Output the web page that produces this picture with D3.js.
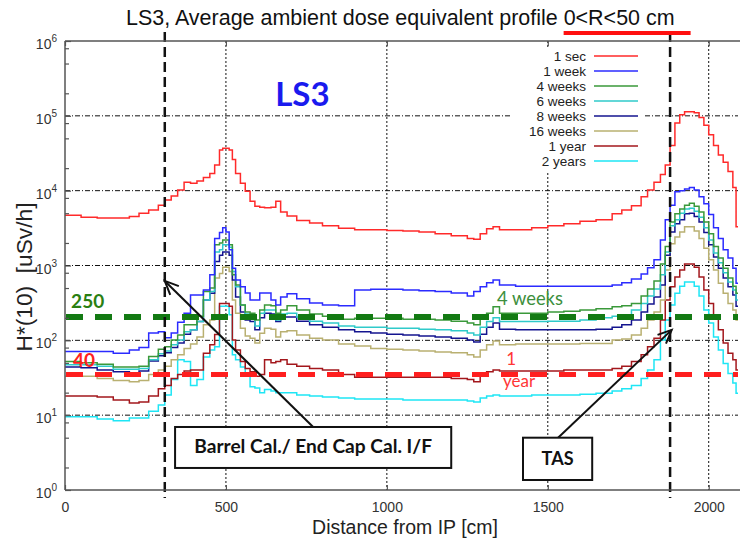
<!DOCTYPE html>
<html><head><meta charset="utf-8">
<script src="https://cdn.jsdelivr.net/npm/d3@7"></script>
<style>body{margin:0;background:#fff} svg{display:block}</style>
</head><body><svg id="chart" width="740" height="541"></svg>
<script>
// ---------- data ----------
const distances = [0,50,100,150,200,230,260,290,310,330,350,370,390,410,430,450,465,480,490,500,510,520,530,545,560,575,590,605,620,640,655,670,690,720,760,800,850,900,950,1000,1050,1100,1150,1200,1250,1270,1290,1310,1330,1350,1400,1450,1500,1550,1600,1650,1700,1730,1760,1790,1810,1830,1850,1865,1880,1895,1910,1925,1940,1955,1970,1985,2000,2015,2030,2045,2060,2075,2085];

const dose1sec = [4700,4400,4300,4300,4500,5000,5500,6400,7500,8500,
10200,13000,12600,13500,15000,
17000,22000,35000,37000,37000,
35000,26000,17000,12600,9800,
7200,6200,6000,5900,6000,
7200,5200,4600,4000,3700,
3400,3150,3000,3000,2930,
2900,2800,2650,2500,2300,
2250,2650,3100,3300,3000,
3000,3200,3400,3600,3900,
4100,4900,5500,6300,8300,
10200,13000,16500,22000,40000,
80000,103000,113000,113000,110000,
95000,75000,56000,40000,30000,
24000,18000,11000,3300];

const dose1week = [71,71,71,67,74,80,125,130,108,125,
175,230,405,405,470,
750,2300,2750,3200,2800,
1620,920,640,520,430,
347,347,430,430,347,
297,380,420,360,315,
297,290,470,480,480,
470,460,450,430,390,
450,520,590,640,550,
530,530,530,530,530,
530,550,590,660,770,
930,1190,2200,4100,6400,
9700,10000,10500,11000,10200,
8300,6700,4800,3200,2300,
1620,1260,920,580];

const dose4weeks = [52,50,48,44,44,45,61,76,82,101,
118,161,161,210,450,
500,1900,2000,2200,2200,
1900,750,550,297,240,
230,187,255,297,290,
230,255,290,255,225,
210,192,197,197,197,
192,192,187,180,170,
161,197,230,280,230,
230,230,240,245,255,
265,280,290,310,390,
485,620,1050,1800,3800,
4900,5700,6400,6800,6200,
5200,3800,2650,1800,1260,
920,680,530,425];

const dose6weeks = [47,47,45,41,41,42,55,66,72,87,
101,130,138,178,347,
450,1520,1620,1900,1900,
1750,830,520,297,225,
219,155,230,255,255,
187,225,230,205,180,
170,155,150,150,145,
145,141,138,134,125,
118,150,178,200,178,
178,178,180,180,187,
200,210,219,255,310,
390,485,750,1520,3400,
4100,5000,5700,5800,5300,
4400,3200,2200,1470,1090,
800,600,470,347];

const dose8weeks = [44,43,40,38,34,39,53,62,68,80,
92,121,138,178,347,
425,1130,1370,1520,1520,
1370,640,380,240,187,
178,138,200,230,225,
178,205,205,180,161,
150,138,130,125,121,
118,114,111,107,101,
95,121,150,170,141,
138,138,138,138,138,
141,150,161,187,240,
305,380,550,1370,2800,
3600,4100,4900,5000,4500,
3800,2750,1900,1300,920,
680,520,405,285];

const dose16weeks = [33,33,31,29,28,29,35,40,45,55,
64,78,89,111,161,
187,680,780,950,950,
830,347,230,145,114,
107,92,124,145,141,
111,130,134,118,107,
101,89,84,78,76,
74,72,70,68,64,
60,74,87,98,87,
89,89,89,89,91,
91,101,104,118,145,
187,240,347,870,1950,
2400,2800,3300,3300,2900,
2300,1700,1190,870,580,
425,310,255,187];

const dose1year = [18,18,17.5,16,14.5,15,18,22.5,25,31,
35,39,40,40,67,
87,120,310,310,310,
285,101,74,52,42,
38,33,35,55,50,
52,55,48,45,42,
40,35,32,32,32,
32,32,32,31,30,
28,34,38,40,39,
39,39,39,40,40,
40,42,45,52,64,
82,107,187,347,520,
700,870,1050,1050,950,
700,470,310,205,138,
92,67,55,40];

const dose2years = [9.5,9.5,8.9,8.4,9.2,9.2,11.3,13.7,18.6,30,
55,52,25,30,60,
74,82,285,285,285,
219,64,55,44,33,
24,23,20,22,21,
20,20,20,18.6,18,
17.5,17,16.5,16.5,16.5,
16,16,16,16,15.5,
15,17,18,18.6,18,
18,18.6,18.6,18.6,19,
19.6,21,22.5,25,31,
40,55,101,187,297,
425,530,600,600,530,
390,255,170,111,74,
49,36,27,19.6];

const seriesNames = ["1 sec","1 week","4 weeks","6 weeks","8 weeks","16 weeks","1 year","2 years"];
const seriesValues = [dose1sec,dose1week,dose4weeks,dose6weeks,dose8weeks,dose16weeks,dose1year,dose2years];
const seriesColors = ["#ff2a2a","#2b2bff","#3a993a","#2fcaca","#14148f","#b9b071","#a3171c","#1ee6f5"];

const xTicks = [0,500,1000,1500,2000];
const yDecades = [1,10,100,1000,10000,100000,1000000];
const yMinor = [2,5,8,20,50,80,200,500,800,2000,5000,8000,20000,50000,80000,200000,500000,800000];
const xMax = 2091;

const markerDistances = [310,1880];
const thresholdValues = [205,35];
const thresholdColors = ["#137a13","#ff1f1f"];
const thresholdLabels = ["250","40"];
const thresholdLabelPos = [[19,271],[25,44]];

const titleMain = "LS3, Average ambient dose equivalent profile ";
const titleRange = "0<R<50 cm";

// ---------- chart ----------
const svg = d3.select("#chart");
const FONT = "Liberation Sans, Arial, sans-serif";
const plot = {left:65,right:738,top:41,bottom:490};
const x = d3.scaleLinear().domain([0,xMax]).range([plot.left,plot.right]);
const y = d3.scaleLog().domain([1,1e6]).range([plot.bottom,plot.top]);

function fit(sel, target){
  const fs = parseFloat(sel.attr("font-size"));
  const w = sel.node().getComputedTextLength();
  sel.attr("font-size", fs*target/w);
}

svg.append("defs").append("clipPath").attr("id","clip")
  .append("rect").attr("x",plot.left).attr("y",plot.top)
  .attr("width",plot.right-plot.left).attr("height",plot.bottom-plot.top);

// grid
svg.append("g").selectAll("line").data(yDecades.slice(1,-1)).join("line")
  .attr("x1",plot.left).attr("x2",plot.right)
  .attr("y1",d=>y(d)).attr("y2",d=>y(d))
  .attr("stroke","#111").attr("stroke-width",1).attr("stroke-dasharray","5,2,1,2");
svg.append("g").selectAll("line").data(xTicks.slice(1)).join("line")
  .attr("x1",d=>x(d)).attr("x2",d=>x(d))
  .attr("y1",plot.top).attr("y2",plot.bottom)
  .attr("stroke","#111").attr("stroke-width",1).attr("stroke-dasharray","2,2");

// series
const line = d3.line().curve(d3.curveStepAfter).x(d=>x(d[0])).y(d=>y(d[1]));
const gS = svg.append("g").attr("clip-path","url(#clip)");
for (let i = seriesValues.length-1; i >= 0; i--) {
  const vals = seriesValues[i];
  const pts = distances.map((d,j)=>[d,vals[j]]);
  pts.push([xMax, vals[vals.length-1]]);
  gS.append("path").datum(pts).attr("d",line)
    .attr("fill","none").attr("stroke",seriesColors[i]).attr("stroke-width",1.5);
}

// threshold dashed lines
thresholdValues.forEach((v,i)=>{
  svg.append("line").attr("x1",plot.left+1).attr("x2",plot.right)
    .attr("y1",y(v)).attr("y2",y(v))
    .attr("stroke",thresholdColors[i]).attr("stroke-width",i===0?6:5)
    .attr("stroke-dasharray","17,12");
  svg.append("text").attr("x",x(thresholdLabelPos[i][0])).attr("y",y(thresholdLabelPos[i][1]))
    .attr("font-family","Lato, Calibri, sans-serif").attr("font-weight","bold")
    .attr("font-size",19).attr("fill",i===0?"#2a7f12":"#ff2020")
    .text(thresholdLabels[i]);
});

// annotation texts on curves
const noteTexts = [
  {t:"4 weeks", cm:1342, v:297, color:"#3d8f3d", anchor:"start", w:66},
  {t:"1", cm:1386, v:47, color:"#ff3535", anchor:"middle", w:0},
  {t:"year", cm:1411, v:23.8, color:"#ff3535", anchor:"middle", w:0}
];
noteTexts.forEach(n=>{
  const t = svg.append("text").attr("x",x(n.cm)).attr("y",y(n.v)).attr("text-anchor",n.anchor)
    .attr("font-family","Lato, Calibri, sans-serif").attr("font-size",17).attr("fill",n.color).text(n.t);
  if (n.w) fit(t, n.w);
});

// LS3 label
svg.append("text").attr("x",x(653)).attr("y",y(136000))
  .attr("font-family","Lato, Calibri, sans-serif").attr("font-weight","bold")
  .attr("font-size",33).attr("fill","#1a1aee").text("LS3");

// legend
const legX = 586, legY0 = 56, legDy = 15;
svg.append("rect").attr("x",511).attr("y",47).attr("width",134).attr("height",124).attr("fill","#fff");
const leg = svg.append("g").attr("font-family",FONT).attr("font-size",13.5).attr("fill","#222");
seriesNames.forEach((n,i)=>{
  leg.append("text").attr("x",legX).attr("y",legY0+i*legDy+4.5).attr("text-anchor","end").text(n);
  leg.append("line").attr("x1",594).attr("x2",638).attr("y1",legY0+i*legDy).attr("y2",legY0+i*legDy)
    .attr("stroke",seriesColors[i]).attr("stroke-width",1.5);
});

// black dashed markers
svg.append("g").selectAll("line").data(markerDistances).join("line")
  .attr("x1",d=>x(d)).attr("x2",d=>x(d)).attr("y1",32).attr("y2",498)
  .attr("stroke","#111").attr("stroke-width",2.5).attr("stroke-dasharray","10,5");

// axes
const axColor = "#555";
const yMaj = svg.append("g").attr("transform",`translate(${plot.left},0)`)
  .call(d3.axisLeft(y).tickValues(yDecades).tickSize(-6).tickFormat(""));
const yMin = svg.append("g").attr("transform",`translate(${plot.left},0)`)
  .call(d3.axisLeft(y).tickValues(yMinor).tickSize(-4).tickFormat(""));
const xAx = svg.append("g").attr("transform",`translate(0,${plot.bottom})`)
  .call(d3.axisBottom(x).tickValues(xTicks).tickSize(-5).tickPadding(12).tickFormat(d3.format("d")));
const xTop = svg.append("g").attr("transform",`translate(0,${plot.top})`)
  .call(d3.axisTop(x).tickValues(xTicks).tickSize(-5).tickFormat(""));
[yMaj,yMin,xAx,xTop].forEach(g=>{
  g.select(".domain").remove();
  g.selectAll(".tick line").attr("stroke",axColor).attr("stroke-width",1.2);
});
xAx.selectAll(".tick text").attr("font-family",FONT).attr("font-size",14).attr("fill","#333");
svg.append("line").attr("x1",plot.left).attr("x2",plot.left).attr("y1",plot.top).attr("y2",plot.bottom).attr("stroke",axColor).attr("stroke-width",1.5);
svg.append("line").attr("x1",plot.left).attr("x2",plot.right+2).attr("y1",plot.bottom).attr("y2",plot.bottom).attr("stroke",axColor).attr("stroke-width",1.5);
svg.append("line").attr("x1",plot.left).attr("x2",plot.right+2).attr("y1",plot.top).attr("y2",plot.top).attr("stroke",axColor).attr("stroke-width",1.5);

// y tick labels 10^n
const yl = svg.append("g").attr("font-family",FONT).attr("fill","#333");
yDecades.forEach(v=>{
  const t = yl.append("text").attr("x",plot.left-8).attr("y",y(v)+8).attr("text-anchor","end").attr("font-size",14);
  t.append("tspan").text("10");
  t.append("tspan").attr("dy",-7).attr("font-size",10).text(Math.round(Math.log10(v)));
});

// axis titles
const xt = svg.append("text").attr("x",405).attr("y",534).attr("text-anchor","middle")
  .attr("font-family",FONT).attr("font-size",17).attr("fill","#222").text("Distance from IP [cm]");
fit(xt,186);
const ytl = svg.append("text").attr("transform","translate(32,277) rotate(-90)").attr("text-anchor","middle")
  .attr("font-family",FONT).attr("font-size",17).attr("fill","#222").attr("xml:space","preserve").text("H*(10)  [uSv/h]");
fit(ytl,149);

// title
const title = svg.append("text").attr("y",25).attr("font-family",FONT).attr("font-size",19).attr("fill","#111");
const t1 = title.append("tspan").attr("xml:space","preserve").text(titleMain);
const t2 = title.append("tspan").text(titleRange);
fit(title, 549);
const w1 = t1.node().getComputedTextLength();
const w2 = t2.node().getComputedTextLength();
const tx = 126;
title.attr("x",tx);
svg.append("line").attr("x1",tx+w1).attr("x2",tx+w1+w2+16).attr("y1",33).attr("y2",33)
  .attr("stroke","#ff1010").attr("stroke-width",4);

// annotation boxes and arrows
const boxes = [
  {text:"Barrel Cal./ End Cap Cal. I/F", x0:342, x1:1200, v0:6.95, v1:1.97, w:238},
  {text:"TAS", x0:1423, x1:1638, v0:5.0, v1:1.36, w:32}
];
const arrows = [
  {from:[771,6.95], to:[310,622]},
  {from:[1532,5.0], to:[1885,138]}
];
arrows.forEach(a=>{
  const fx=x(a.from[0]), fy=y(a.from[1]), tx2=x(a.to[0]), ty=y(a.to[1]);
  svg.append("line").attr("x1",fx).attr("y1",fy).attr("x2",tx2).attr("y2",ty)
    .attr("stroke","#111").attr("stroke-width",2);
  const ang = Math.atan2(fy-ty, fx-tx2), L=15, s=0.42;
  const p = [[tx2+L*Math.cos(ang+s), ty+L*Math.sin(ang+s)],[tx2,ty],[tx2+L*Math.cos(ang-s), ty+L*Math.sin(ang-s)]];
  svg.append("path").attr("d",d3.line()(p)).attr("fill","none").attr("stroke","#111").attr("stroke-width",2);
});
boxes.forEach(b=>{
  const bx=x(b.x0), bw=x(b.x1)-x(b.x0), by=y(b.v0), bh=y(b.v1)-y(b.v0);
  svg.append("rect").attr("x",bx).attr("y",by).attr("width",bw).attr("height",bh)
    .attr("fill","#fff").attr("stroke","#111").attr("stroke-width",2);
  const t = svg.append("text").attr("x",bx+bw/2).attr("y",by+bh/2+6).attr("text-anchor","middle")
    .attr("font-family","Lato, Calibri, sans-serif").attr("font-weight","bold").attr("font-size",17)
    .attr("fill","#111").text(b.text);
  fit(t, b.w);
});
</script></body></html>
